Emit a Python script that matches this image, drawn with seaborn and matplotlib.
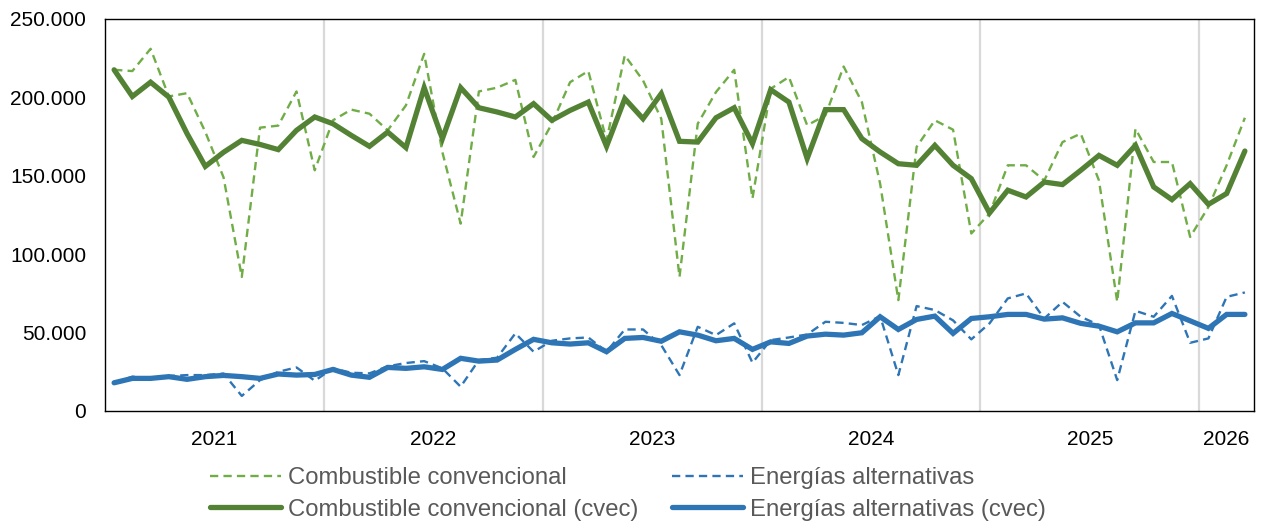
import numpy as np
import pandas as pd
import seaborn as sns
import matplotlib.pyplot as plt
from matplotlib.ticker import FuncFormatter, FixedLocator

# ---------------- data (monthly, Jan 2021 - Mar 2026) ----------------
months = pd.period_range("2021-01", "2026-03", freq="M").astype(str).tolist()

combustible_convencional = [
    217600, 216800, 231000, 200600, 202700, 178000, 149000, 85500, 180700, 182000, 203800, 153500,
    185400, 192200, 189600, 179000, 194900, 227800, 165000, 119500, 203800, 206200, 211200, 162000,
    183200, 209700, 216800, 172600, 226800, 210800, 186400, 85500, 183200, 203400, 217600, 135500,
    205500, 213000, 182200, 188500, 219700, 197000, 145000, 70700, 168400, 185400, 179400, 113200,
    126000, 156700, 156700, 147000, 171500, 176900, 147000, 69600, 180000, 158800, 158800, 111000,
    130100, 156700, 187000,
]
combustible_convencional_cvec = [
    217600, 200600, 209700, 200200, 176900, 156000, 165000, 172600, 170000, 166700, 179000, 187500,
    183200, 175800, 168800, 177900, 168000, 206200, 173700, 206200, 193400, 190700, 187500, 196000,
    185400, 191700, 197000, 168800, 199200, 186400, 202400, 172000, 171500, 187000, 193400, 170500,
    204900, 197000, 161000, 192200, 192200, 173700, 165200, 157700, 156700, 169400, 156700, 148200,
    126300, 140800, 136500, 146000, 144400, 153500, 163000, 156700, 169400, 142900, 134800, 145000,
    131800, 138700, 165800,
]
energias_alternativas = [
    18000, 21900, 20800, 22300, 22900, 22900, 23900, 9600, 19700, 25000, 27800, 19300,
    27200, 24400, 24000, 28500, 30600, 31800, 27200, 15500, 32500, 34000, 49500, 37800,
    44800, 46300, 46900, 37800, 52000, 52000, 42000, 22900, 53700, 48400, 55900, 30800,
    45200, 46900, 48800, 56900, 56200, 54800, 60500, 22900, 66900, 64400, 57800, 45700,
    55900, 71800, 75000, 59000, 69600, 60100, 54800, 19700, 63900, 60100, 73400, 43500,
    46300, 72800, 75600,
]
energias_alternativas_cvec = [
    18000, 20800, 20800, 21900, 20200, 21900, 22700, 21900, 20800, 23600, 22900, 23300,
    26500, 22900, 21500, 27800, 27200, 28200, 26500, 33600, 31800, 32500, 39300, 45700,
    43500, 42700, 43500, 37800, 46300, 46900, 44500, 50500, 48400, 44800, 46300, 39300,
    44100, 43100, 47800, 49000, 48400, 49900, 60100, 52000, 58400, 60500, 49500, 59000,
    60100, 61600, 61600, 58600, 59400, 55900, 54100, 50500, 56200, 56200, 62200, 57500,
    52700, 61600, 61600,
]
year_labels = ["2021", "2022", "2023", "2024", "2025", "2026"]
y_ticks = [0, 50000, 100000, 150000, 200000, 250000]

labels = {
    "cc": "Combustible convencional",
    "ea": "Energías alternativas",
    "ccv": "Combustible convencional (cvec)",
    "eav": "Energías alternativas (cvec)",
}

# ---------------- figure ----------------
sns.set_theme(style="white")
plt.rcParams["font.family"] = ["Liberation Sans", "DejaVu Sans"]

df = pd.DataFrame({
    "mes": months,
    "idx": np.arange(len(months)),
    "cc": combustible_convencional,
    "ea": energias_alternativas,
    "ccv": combustible_convencional_cvec,
    "eav": energias_alternativas_cvec,
})

fig = plt.figure(figsize=(12.62, 5.22), dpi=100)
ax = fig.add_axes([105 / 1262, 1 - 411 / 522, 1149 / 1262, 392 / 522])

green_light = "#70AD47"
green_dark = "#548235"
blue = "#2E75B6"

sns.lineplot(data=df, x="idx", y="cc", ax=ax, color=green_light, linewidth=1.7,
             linestyle=(0, (3.5, 2.2)), label=labels["cc"], legend=False)
sns.lineplot(data=df, x="idx", y="ea", ax=ax, color=blue, linewidth=1.7,
             linestyle=(0, (3.5, 2.2)), label=labels["ea"], legend=False)
sns.lineplot(data=df, x="idx", y="ccv", ax=ax, color=green_dark, linewidth=3.8,
             solid_capstyle="round", solid_joinstyle="miter", label=labels["ccv"], legend=False)
sns.lineplot(data=df, x="idx", y="eav", ax=ax, color=blue, linewidth=3.8,
             solid_capstyle="round", solid_joinstyle="miter", label=labels["eav"], legend=False)

n = len(months)
ax.set_xlim(-0.5, n - 0.5)
ax.set_ylim(0, 250000)
ax.set_xlabel("")
ax.set_ylabel("")

# year boundaries and centered year labels
years = [m[:4] for m in months]
bounds = [i - 0.5 for i in range(1, n) if years[i] != years[i - 1]]
for b in bounds:
    ax.axvline(b, color="#D9D9D9", linewidth=1.6, zorder=0)
centers = []
for y in year_labels:
    ids = [i for i, yy in enumerate(years) if yy == y]
    centers.append((ids[0] + ids[-1]) / 2)
ax.xaxis.set_major_locator(FixedLocator(centers))
ax.set_xticklabels(year_labels)

ax.yaxis.set_major_locator(FixedLocator(y_ticks))
ax.yaxis.set_major_formatter(FuncFormatter(lambda v, p: f"{int(v):,}".replace(",", ".")))
ax.tick_params(axis="both", length=0, labelsize=15, colors="black", pad=13.5)
ax.grid(False)
for s in ax.spines.values():
    s.set_visible(True)
    s.set_color("black")
    s.set_linewidth(1.0)

h, l = ax.get_legend_handles_labels()
order = [l.index(labels["cc"]), l.index(labels["ccv"]), l.index(labels["ea"]), l.index(labels["eav"])]
fig.legend([h[i] for i in order], [l[i] for i in order], ncol=2, loc="center",
           bbox_to_anchor=(628 / 1262, 1 - 494 / 522), frameon=False, fontsize=17.2,
           handlelength=2.95, handletextpad=0.3, columnspacing=1.42, labelspacing=0.38,
           labelcolor="#595959", borderpad=0.2)

fig.savefig("out.png", dpi=100)
